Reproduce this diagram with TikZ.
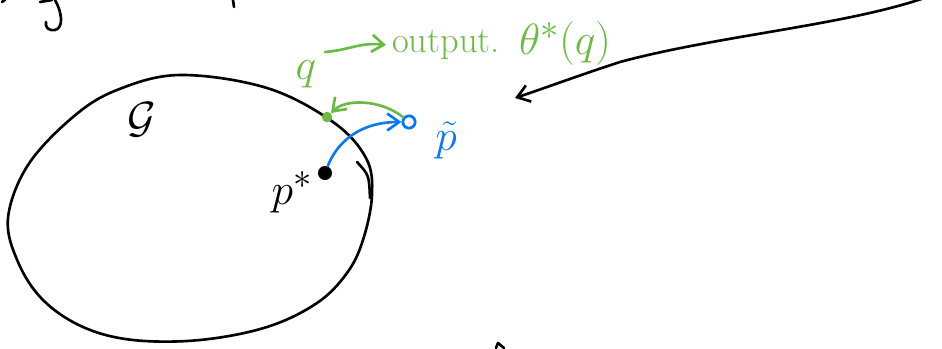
\documentclass[tikz,border=0pt]{standalone}
\usetikzlibrary{arrows.meta}
\definecolor{penGreen}{RGB}{106,186,68}
\definecolor{penBlue}{RGB}{10,120,240}

\begin{document}
\begin{tikzpicture}[
  x=0.02cm, y=-0.02cm,
  pen/.style={line width=1.5pt, line cap=round, line join=round},
  dot/.style={circle, fill, inner sep=0pt, minimum size=8pt},
  ring/.style={circle, draw=penBlue, line width=1.6pt, inner sep=0pt, minimum size=7pt},
  hand/.style={font=\Huge, inner sep=1pt},
  barb/.style={-{Straight Barb[length=2.4mm, width=3.4mm]}}
]
\useasboundingbox (0,0) rectangle (942,348);

% --- the set G ---
\draw[pen] plot[smooth cycle, tension=0.6] coordinates {
  (180,75) (267,88) (333,122) (366,158) (372,195) (363,240) (347,273)
  (317,303) (267,327) (200,340) (133,340) (83,327) (43,300) (18,262)
  (8,218) (28,165) (73,117) (117,90)};
\draw[pen] (357,162) .. controls (369,175) .. (370,198);
\node[hand] (setlabel) at (142,120) {$\mathcal{G}$};

% --- points ---
\node[dot] (pstar) at (325,173) {};
\node[hand] (pstarlabel) at (292,192) {$p^{*}$};
\node[dot, fill=penGreen, minimum size=6pt] (q) at (327,117) {};
\node[hand, text=penGreen] (qlabel) at (306,74) {$q$};
\node[ring] (ptilde) at (409,122) {};
\node[hand, text=penBlue] (ptildelabel) at (446,140) {$\tilde{p}$};

% --- projection arrows ---
\draw[pen, penBlue, barb] (pstar) .. controls (338,140) and (362,122) .. (ptilde);
\draw[pen, penGreen, barb] (ptilde) .. controls (382,100) and (346,98) .. (q);

% --- output ---
\node[font=\huge, text=penGreen] (outlabel) at (446,45) {output.};
\node[hand, text=penGreen] (thetalabel) at (565,44) {$\theta^{*}(q)$};
\coordinate (outstart) at (325,52);
\draw[pen, penGreen, barb] (outstart) .. controls (350,50) and (360,42) .. (outlabel.west);

% --- long arrow ---
\coordinate (longstart) at (930,-4);
\draw[pen, barb] (longstart) .. controls (850,25) and (720,35) .. (620,62)
  .. controls (580,75) and (545,88) .. (515,98);

% --- cut-off strokes at the edges ---
\draw[pen] (55,0) .. controls (62,12) and (64,28) .. (55,30) .. controls (48,31) and (45,27) .. (46,22);
\draw[pen] (40,2) -- (52,0);
\draw[pen] (2,2) -- (5,0);
\draw[pen] (233,0) -- (234,7);
\draw[pen] (496,348) -- (498,343) -- (504,348);
\end{tikzpicture}
\end{document}
